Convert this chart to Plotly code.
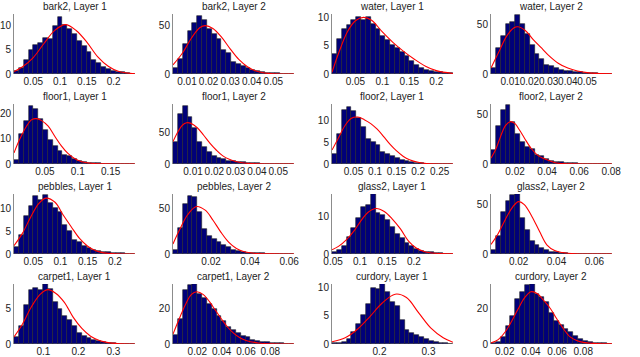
import numpy as np
import plotly.graph_objects as go
from plotly.subplots import make_subplots

# Each panel: normalised histogram (25 equal bins spanning the x-limits)
# plus the red fitted density.
TITLES = ["bark2, Layer 1", "bark2, Layer 2", "water, Layer 1", "water, Layer 2",
          "floor1, Layer 1", "floor1, Layer 2", "floor2, Layer 1", "floor2, Layer 2",
          "pebbles, Layer 1", "pebbles, Layer 2", "glass2, Layer 1", "glass2, Layer 2",
          "carpet1, Layer 1", "carpet1, Layer 2", "curdory, Layer 1", "curdory, Layer 2"]

bark2_1_xlim = [0.014, 0.24]
bark2_1_hist = [0.6, 1.2, 2.9, 5.0, 6.0, 6.5, 7.5, 7.3, 10.0, 11.7, 10.2, 9.3, 8.3,
                6.8, 5.7, 4.6, 2.9, 2.2, 1.5, 1.0, 0.7, 0.5, 0.4, 0.2, 0.1]
bark2_1_fit_x = [0.014, 0.03, 0.05, 0.07, 0.09, 0.11, 0.13, 0.15, 0.17, 0.19, 0.21, 0.24]
bark2_1_fit_y = [0.5, 1.5, 3.4, 6.3, 9.0, 10.2, 9.0, 6.6, 3.6, 1.6, 0.5, 0.05]

bark2_2_xlim = [0.0035, 0.0596]
bark2_2_hist = [6, 15, 31, 44, 53, 60, 56, 47, 41, 36, 25, 22, 12, 10, 8, 6, 4, 3.5,
                2, 1.4, 1, 0.7, 0.5, 0.3, 0.2]
bark2_2_fit_x = [0.0035, 0.008, 0.012, 0.016, 0.0185, 0.022, 0.026, 0.03, 0.034, 0.038,
                 0.042, 0.046, 0.05, 0.0596]
bark2_2_fit_y = [9.5, 22, 37, 48, 50, 47, 38, 26, 15, 7.5, 3, 1, 0.3, 0]

water_1_xlim = [0.0066, 0.231]
water_1_hist = [3.6, 6.2, 8.0, 8.8, 9.6, 10.2, 9.7, 10.2, 8.9, 8.0, 6.7, 6.0, 5.2, 4.6,
                4.0, 3.2, 2.3, 1.6, 1.0, 0.7, 0.5, 0.4, 0.3, 0.2, 0.1]
water_1_fit_x = [0.0066, 0.02, 0.035, 0.05, 0.065, 0.08, 0.1, 0.12, 0.14, 0.16, 0.18,
                 0.2, 0.231]
water_1_fit_y = [0.3, 4.0, 7.5, 9.5, 10.1, 9.6, 7.5, 5.6, 4.0, 2.6, 1.4, 0.6, 0.1]

water_2_xlim = [0.0, 0.063]
water_2_hist = [6, 26, 39, 51, 53, 60, 51, 41, 29, 20, 15, 9.5, 8, 6, 4, 3.5, 3, 2,
                1.8, 1.4, 1, 0.8, 0.5, 0.3, 0.2]
water_2_fit_x = [0.0, 0.004, 0.008, 0.012, 0.014, 0.018, 0.022, 0.026, 0.03, 0.035,
                 0.04, 0.045, 0.05, 0.055, 0.063]
water_2_fit_y = [6, 22, 38, 47, 48, 44, 35, 27, 19, 11, 6, 3, 1.4, 0.6, 0.1]

floor1_1_xlim = [0.003, 0.187]
floor1_1_hist = [1.6, 12, 17, 23, 22, 18, 13.6, 9.5, 7, 5.3, 3.7, 3, 2, 1.2, 0.8, 0.5,
                 0.4, 0.3, 0.2, 0.1, 0.05, 0.15, 0.05, 0.05, 0.0]
floor1_1_fit_x = [0.003, 0.012, 0.022, 0.03, 0.037, 0.045, 0.055, 0.065, 0.075, 0.085,
                  0.095, 0.105, 0.12, 0.14, 0.187]
floor1_1_fit_y = [4.4, 10, 15, 17.6, 18, 17.2, 15, 11, 7.2, 4.2, 2.2, 1, 0.3, 0.05, 0]

floor1_2_xlim = [0.0006, 0.0574]
floor1_2_hist = [35, 80, 93, 76, 58, 36, 27, 18.5, 13.6, 10.3, 8, 5.4, 4.3, 3.3, 2.7,
                 2, 1.6, 1, 0.8, 0.5, 0.4, 0.3, 0.2, 0.1, 0.1]
floor1_2_fit_x = [0.0006, 0.003, 0.005, 0.007, 0.009, 0.012, 0.015, 0.018, 0.021, 0.024,
                  0.027, 0.03, 0.035, 0.04, 0.0574]
floor1_2_fit_y = [36, 52, 62, 66, 65, 58, 46, 33, 22, 13, 7.5, 4, 1.3, 0.4, 0]

floor2_1_xlim = [0.0, 0.281]
floor2_1_hist = [2.2, 7, 12.4, 13, 12.1, 10.6, 8.5, 5.8, 5.1, 4.3, 2.8, 2.4, 1.8, 1.3,
                 0.9, 0.6, 0.4, 0.3, 0.2, 0.1, 0.05, 0.05, 0.0, 0.0, 0.0]
floor2_1_fit_x = [0.0, 0.015, 0.03, 0.045, 0.06, 0.075, 0.09, 0.105, 0.12, 0.135, 0.15,
                  0.165, 0.18, 0.2, 0.22, 0.281]
floor2_1_fit_y = [3.2, 6, 8.8, 10.5, 10.8, 10.2, 9.3, 8.0, 6.3, 4.5, 3.0, 1.8, 1.0,
                  0.4, 0.1, 0]

floor2_2_xlim = [0.005, 0.0805]
floor2_2_hist = [14, 39, 55, 60, 43, 31, 22, 17.6, 15, 9.5, 7.7, 5.3, 3.5, 2.5, 1.8,
                 1.4, 1, 0.7, 0.5, 0.4, 0.3, 0.2, 0.1, 0.1, 0.1]
floor2_2_fit_x = [0.005, 0.008, 0.011, 0.014, 0.017, 0.02, 0.023, 0.026, 0.03, 0.034,
                  0.038, 0.042, 0.047, 0.055, 0.0805]
floor2_2_fit_y = [6, 15, 28, 39, 43, 41, 34, 26, 16, 9, 5.5, 3, 0.7, 0.1, 0]

pebbles_1_xlim = [0.0146, 0.237]
pebbles_1_hist = [1.5, 4.2, 8.4, 10.4, 12.6, 11.9, 12.8, 11.2, 10, 9.1, 6.4, 5.1, 3.1,
                  2.6, 1.8, 1.3, 0.9, 0.7, 0.5, 0.35, 0.25, 0.2, 0.15, 0.1, 0.05]
pebbles_1_fit_x = [0.0146, 0.03, 0.045, 0.06, 0.073, 0.09, 0.105, 0.12, 0.135, 0.15,
                   0.165, 0.18, 0.2, 0.237]
pebbles_1_fit_y = [1.8, 4.5, 8, 11, 12.2, 11.3, 8.5, 5.9, 3.4, 1.7, 0.7, 0.25, 0.05, 0]

pebbles_2_xlim = [0.0005, 0.0625]
pebbles_2_hist = [4.7, 29, 55, 64, 62, 46, 27, 20, 16.4, 12.8, 9.9, 7.3, 4, 3, 2, 1.5,
                  1, 0.7, 0.6, 0.5, 0.3, 0.2, 0.2, 0.1, 0.1]
pebbles_2_fit_x = [0.0005, 0.004, 0.008, 0.0125, 0.017, 0.021, 0.025, 0.029, 0.033,
                   0.037, 0.042, 0.05, 0.0625]
pebbles_2_fit_y = [11, 27, 43, 52, 48, 37, 24, 13, 6, 2.5, 0.8, 0.1, 0]

glass2_1_xlim = [0.048, 0.2725]
glass2_1_hist = [0.4, 1.1, 2, 4.6, 6.8, 9.4, 12.3, 13, 15.8, 10.9, 10.3, 8.9, 7.1, 5.2,
                 4.3, 2.9, 2, 1.4, 0.9, 0.6, 0.4, 0.3, 0.2, 0.1, 0.05]
glass2_1_fit_x = [0.048, 0.06, 0.075, 0.09, 0.1, 0.115, 0.13, 0.145, 0.16, 0.175, 0.19,
                  0.205, 0.22, 0.24, 0.2725]
glass2_1_fit_y = [1.1, 2, 3.8, 6.3, 8.4, 11.0, 12.0, 11.2, 9.2, 6.6, 3.4, 1.5, 0.6,
                  0.2, 0.05]

glass2_2_xlim = [0.0054, 0.0693]
glass2_2_hist = [3.6, 18, 43, 53.6, 59.6, 60.7, 36, 24, 13.2, 9.6, 6, 3.6, 2.5, 1.8, 1,
                 0.7, 0.5, 0.3, 0.2, 0.15, 0.1, 0.05, 0.05, 0.0, 0.0]
glass2_2_fit_x = [0.0054, 0.009, 0.013, 0.017, 0.02, 0.023, 0.027, 0.031, 0.035, 0.039,
                  0.043, 0.05, 0.0693]
glass2_2_fit_y = [9.6, 20, 35, 48, 53, 50, 38, 23, 9, 3.5, 1.5, 0.3, 0]

carpet1_1_xlim = [0.016, 0.362]
carpet1_1_hist = [1, 2.5, 5.5, 7.6, 8.0, 7.6, 8.5, 7.8, 6, 4.9, 4, 3.4, 2.6, 1.6, 1.1,
                  0.8, 0.5, 0.4, 0.3, 0.15, 0.1, 0.05, 0.0, 0.0, 0.0]
carpet1_1_fit_x = [0.016, 0.04, 0.065, 0.09, 0.112, 0.135, 0.16, 0.185, 0.21, 0.235,
                   0.26, 0.285, 0.31, 0.362]
carpet1_1_fit_y = [1, 2.8, 5.2, 7.0, 7.7, 7.2, 5.9, 3.8, 2.2, 1.1, 0.5, 0.2, 0.08, 0]

carpet1_2_xlim = [0.0, 0.0995]
carpet1_2_hist = [5, 14, 30.6, 33.2, 34, 28.6, 26, 22.6, 19.6, 15.6, 13.2, 9.6, 8, 6,
                  4.6, 4.2, 2, 1.6, 1.2, 1, 0.6, 0.4, 0.3, 0.2, 0.1]
carpet1_2_fit_x = [0.0, 0.005, 0.01, 0.015, 0.0195, 0.025, 0.03, 0.035, 0.04, 0.045,
                   0.05, 0.055, 0.06, 0.07, 0.08, 0.0995]
carpet1_2_fit_y = [5.6, 14, 22, 28, 29.6, 28, 24, 19, 14, 9.5, 6, 3.5, 2, 0.6, 0.15, 0]

curdory_1_xlim = [0.103, 0.35]
curdory_1_hist = [0.1, 0.25, 0.4, 0.8, 2.2, 3.5, 5.1, 7, 9.9, 9.7, 10.8, 9.2, 7.5, 6.8,
                  4.3, 2.5, 1.9, 1.6, 1.3, 0.8, 0.6, 0.4, 0.25, 0.15, 0.05]
curdory_1_fit_x = [0.103, 0.13, 0.155, 0.18, 0.205, 0.232, 0.255, 0.28, 0.305, 0.33, 0.35]
curdory_1_fit_y = [0.4, 1.1, 2.6, 4.8, 7.2, 8.8, 8.2, 5.5, 2.8, 1.1, 0.3]

curdory_2_xlim = [0.0095, 0.102]
curdory_2_hist = [0.4, 1.2, 4.2, 10, 15.6, 25.6, 29.6, 33.2, 34, 28.6, 26.6, 23.6, 17.6,
                  13.2, 10.6, 8.6, 6.6, 4.6, 2.6, 1.6, 1, 0.8, 0.6, 0.4, 0.2]
curdory_2_fit_x = [0.0095, 0.015, 0.02, 0.025, 0.03, 0.035, 0.04, 0.045, 0.05, 0.055,
                   0.06, 0.065, 0.07, 0.075, 0.08, 0.09, 0.102]
curdory_2_fit_y = [0.6, 2.5, 6.5, 12.5, 19.5, 26, 29.6, 28.5, 24.5, 20, 14, 8.5, 4, 2,
                   0.9, 0.2, 0.05]

# axis top and tick values per panel (row-major)
Y_TOP = [12.4, 62, 10.7, 61, 23.8, 96, 13.8, 61, 13.1, 65.7, 15.8, 60.7, 8.5, 34, 10.6, 34]
Y_TICKS = [[0, 5, 10], [0, 50], [0, 5, 10], [0, 50],
           [0, 10, 20], [0, 50], [0, 5, 10], [0, 50],
           [0, 5, 10], [0, 50], [0, 10], [0, 50],
           [0, 5], [0, 20], [0, 5, 10], [0, 20]]
X_TICKS = [[0.05, 0.1, 0.15, 0.2], [0.01, 0.02, 0.03, 0.04, 0.05],
           [0.05, 0.1, 0.15, 0.2], [0.01, 0.02, 0.03, 0.04, 0.05],
           [0.05, 0.1, 0.15], [0.01, 0.02, 0.03, 0.04, 0.05],
           [0.05, 0.1, 0.15, 0.2, 0.25], [0.02, 0.04, 0.06, 0.08],
           [0.05, 0.1, 0.15, 0.2], [0.02, 0.04, 0.06],
           [0.05, 0.1, 0.15, 0.2], [0.02, 0.04, 0.06],
           [0.1, 0.2, 0.3], [0.02, 0.04, 0.06, 0.08],
           [0.1, 0.2, 0.3], [0.02, 0.04, 0.06, 0.08]]

PANELS = [
    (bark2_1_xlim, bark2_1_hist, bark2_1_fit_x, bark2_1_fit_y),
    (bark2_2_xlim, bark2_2_hist, bark2_2_fit_x, bark2_2_fit_y),
    (water_1_xlim, water_1_hist, water_1_fit_x, water_1_fit_y),
    (water_2_xlim, water_2_hist, water_2_fit_x, water_2_fit_y),
    (floor1_1_xlim, floor1_1_hist, floor1_1_fit_x, floor1_1_fit_y),
    (floor1_2_xlim, floor1_2_hist, floor1_2_fit_x, floor1_2_fit_y),
    (floor2_1_xlim, floor2_1_hist, floor2_1_fit_x, floor2_1_fit_y),
    (floor2_2_xlim, floor2_2_hist, floor2_2_fit_x, floor2_2_fit_y),
    (pebbles_1_xlim, pebbles_1_hist, pebbles_1_fit_x, pebbles_1_fit_y),
    (pebbles_2_xlim, pebbles_2_hist, pebbles_2_fit_x, pebbles_2_fit_y),
    (glass2_1_xlim, glass2_1_hist, glass2_1_fit_x, glass2_1_fit_y),
    (glass2_2_xlim, glass2_2_hist, glass2_2_fit_x, glass2_2_fit_y),
    (carpet1_1_xlim, carpet1_1_hist, carpet1_1_fit_x, carpet1_1_fit_y),
    (carpet1_2_xlim, carpet1_2_hist, carpet1_2_fit_x, carpet1_2_fit_y),
    (curdory_1_xlim, curdory_1_hist, curdory_1_fit_x, curdory_1_fit_y),
    (curdory_2_xlim, curdory_2_hist, curdory_2_fit_x, curdory_2_fit_y),
]

FONT = "Liberation Sans, Arial, sans-serif"

fig = make_subplots(rows=4, cols=4, subplot_titles=TITLES,
                    horizontal_spacing=0.0635, vertical_spacing=30 / 330)

for i, (xlim, hist, fx, fy) in enumerate(PANELS):
    r, c = i // 4 + 1, i % 4 + 1
    edges = np.linspace(xlim[0], xlim[1], len(hist) + 1)
    centers = (edges[:-1] + edges[1:]) / 2
    fig.add_trace(go.Bar(x=centers, y=hist, width=edges[1] - edges[0],
                         marker=dict(color="#00007a", line=dict(color="#222222", width=0.6))),
                  row=r, col=c)
    fig.add_trace(go.Scatter(x=fx, y=fy, mode="lines", line_shape="spline",
                             line=dict(color="#ff0000", width=1.1)),
                  row=r, col=c)
    fig.update_xaxes(range=xlim, tickvals=X_TICKS[i], tickangle=0, showgrid=False,
                     zeroline=False, showline=False, ticks="", automargin=False,
                     row=r, col=c)
    fig.update_yaxes(range=[0, Y_TOP[i]], tickvals=Y_TICKS[i], showgrid=False,
                     zeroline=False, showline=True, linecolor="#8c8c8c", linewidth=1,
                     ticks="", automargin=False, row=r, col=c)

fig.update_annotations(font=dict(size=10, family=FONT, color="#222222"))
fig.update_layout(width=640, height=357, showlegend=False, bargap=0,
                  margin=dict(l=14, r=28, t=14, b=13),
                  plot_bgcolor="white", paper_bgcolor="white",
                  font=dict(family=FONT, size=10, color="#222222"))
fig.update_xaxes(tickfont=dict(size=10))
fig.update_yaxes(tickfont=dict(size=10))

# drop the browser's default 8px body margin so the figure sits at the page corner
fig.write_html("out.html", config={"displayModeBar": False},
               post_script="document.body.style.margin='0';")
